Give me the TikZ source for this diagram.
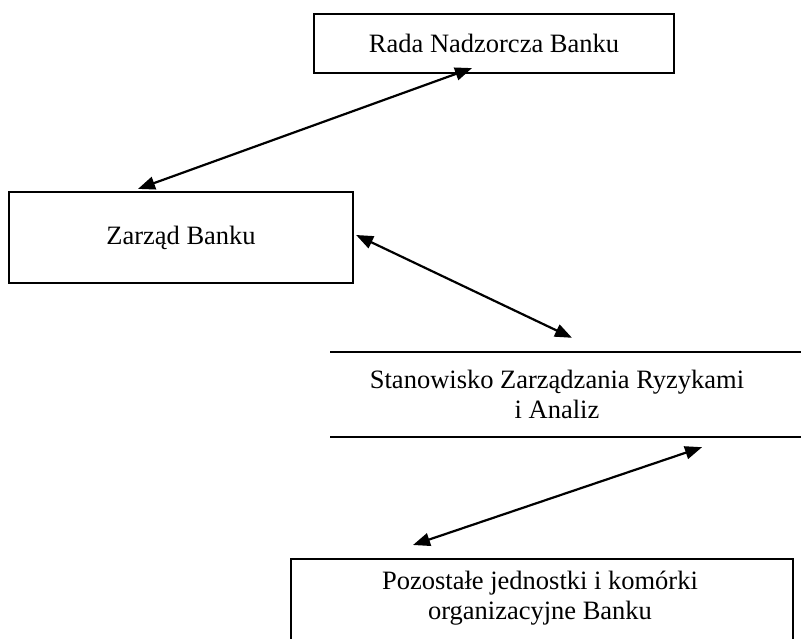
\documentclass[tikz,border=0pt]{standalone}
\usepackage{fontspec}
\setmainfont{Liberation Serif}
\usetikzlibrary{arrows.meta,positioning}

\begin{document}
\begin{tikzpicture}[
  x=1pt, y=-1pt,
  font=\fontsize{26.5}{30}\selectfont,
  box/.style={draw=black, line width=2.2pt, inner sep=0pt, align=center},
  label/.style={inner sep=0pt, align=center},
  edge/.style={line width=2.2pt, draw=black},
  link/.style={{Triangle[length=17pt,width=13pt]}-{Triangle[length=17pt,width=13pt]}, line width=2.2pt, draw=black}
]

% Page frame (pixel units, y downwards).
\useasboundingbox (0,0) rectangle (801,639);
\clip (0,0) rectangle (801,639);

% Boxes that sit fully on the page.
\node[box, minimum width=360pt, minimum height=59pt] (rada) at (494,43.5)
  {Rada Nadzorcza Banku};
\node[box, minimum width=344pt, minimum height=91pt] (zarzad) at (181,237.5)
  {Zarząd Banku};

% Boxes running off the page edge.
\node[label, minimum height=85pt] (stanowisko) at (557,394.5)
  {Stanowisko Zarządzania Ryzykami\\i Analiz};
\draw[edge] (330,352) -- (810,352);
\draw[edge] (330,437) -- (810,437);

\node[label] (pozostale) at (540,598)
  {Pozostałe jednostki i komórki\\organizacyjne Banku};
\coordinate (pozostaletop) at (542,559);
\draw[edge] (291,650) -- (291,559) -- (793,559) -- (793,650);

% Two-way links.
\draw[link] ([xshift=-22pt,yshift=6pt]rada.south)
  -- ([xshift=-43pt,yshift=2pt]zarzad.north);
\draw[link] ([xshift=2pt,yshift=2.5pt]zarzad.east)
  -- ([xshift=15pt,yshift=14pt]stanowisko.north);
\draw[link] ([xshift=145pt,yshift=-10pt]stanowisko.south)
  -- ([xshift=-129pt,yshift=14pt]pozostaletop);

\end{tikzpicture}
\end{document}
